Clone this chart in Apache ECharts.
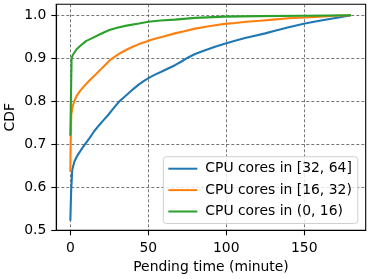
<!DOCTYPE html>
<html>
<head>
<meta charset="utf-8">
<script src="https://cdn.jsdelivr.net/npm/echarts@6/dist/echarts.min.js"></script>
<style>html,body{margin:0;padding:0;background:#fff}#c{width:371px;height:279px}</style>
</head>
<body>
<div id="c"></div>
<script>
const seriesNames = ['CPU cores in [32, 64]', 'CPU cores in [16, 32)', 'CPU cores in (0, 16)'];
const colors = ['#1f77b4', '#ff7f0e', '#2ca02c'];

const blueX = [0, 0.5, 1.2, 2.6, 4.7, 6.9, 9, 12.2, 15.4, 18.6, 21, 24, 27.5, 31.5, 36.8, 40.5, 44.2, 47.5, 50.6, 54.3, 58, 62, 67.1, 71, 74.6, 80, 86, 92.8, 99, 105.6, 112, 118.4, 125, 131.2, 140, 150.4, 158, 165.4, 172, 180];
const blueY = [0.522, 0.59, 0.64, 0.66, 0.675, 0.687, 0.698, 0.714, 0.731, 0.745, 0.755, 0.767, 0.783, 0.80, 0.817, 0.829, 0.840, 0.848, 0.855, 0.862, 0.868, 0.875, 0.884, 0.892, 0.90, 0.910, 0.918, 0.927, 0.934, 0.941, 0.947, 0.9526, 0.958, 0.964, 0.972, 0.981, 0.986, 0.991, 0.995, 1.0];

const orangeX = [0, 0.2, 0.6, 1.5, 2.5, 4, 6, 8.3, 12.4, 16.7, 20, 23, 25.8, 29, 32.5, 36, 40, 44, 48, 52, 56, 61, 67, 73, 80, 86, 92.8, 99, 105.6, 113, 121.6, 130, 140, 150.4, 160, 170, 180];
const orangeY = [0.636, 0.70, 0.77, 0.788, 0.80, 0.812, 0.823, 0.833, 0.849, 0.864, 0.876, 0.887, 0.897, 0.905, 0.913, 0.920, 0.927, 0.933, 0.938, 0.943, 0.947, 0.952, 0.958, 0.963, 0.969, 0.973, 0.977, 0.980, 0.982, 0.985, 0.9875, 0.990, 0.993, 0.995, 0.997, 0.999, 1.0];

const greenX = [0, 0.8, 1.5, 4, 7, 10, 14, 19, 25, 30, 36, 44, 50, 58, 67, 80, 99, 120, 150, 180];
const greenY = [0.72, 0.90, 0.907, 0.921, 0.931, 0.94, 0.947, 0.956, 0.966, 0.971, 0.976, 0.981, 0.985, 0.988, 0.99, 0.994, 0.997, 0.998, 0.999, 1.0];

const xTicks = [0, 50, 100, 150];
const yTicks = [0.5, 0.6, 0.7, 0.8, 0.9, 1.0];

const FONT = 'DejaVu Sans';
const FS = 13.9;

function pairs(xs, ys) { return xs.map((x, i) => [x, ys[i]]); }
const allX = [blueX, orangeX, greenX];
const allY = [blueY, orangeY, greenY];

const chart = echarts.init(document.getElementById('c'), null, {renderer: 'canvas'});
const gridLine = {show: true, lineStyle: {color: '#555', width: 0.8, type: [3, 2]}};
chart.setOption({
  animation: false,
  backgroundColor: '#fff',
  grid: {left: 56.3, right: 5.3, top: 4.3, bottom: 48.7, show: true, borderColor: '#000', borderWidth: 1.1, backgroundColor: 'transparent', containLabel: false, outerBoundsMode: 'none'},
  xAxis: {
    type: 'value', min: -9, max: 189.4, splitNumber: 4,
    name: 'Pending time (minute)', nameLocation: 'middle', nameGap: 30,
    nameTextStyle: {fontFamily: FONT, fontSize: FS, color: '#000'},
    axisLine: {show: true, onZero: false, lineStyle: {color: '#000', width: 1.1}},
    axisTick: {show: true, length: 5, lineStyle: {color: '#000', width: 1.1}, customValues: xTicks},
    axisLabel: {fontFamily: FONT, fontSize: FS, color: '#000', margin: 11, customValues: xTicks, formatter: v => String(v)},
    splitLine: gridLine
  },
  yAxis: {
    type: 'value', min: 0.5, max: 1.0256, splitNumber: 5,
    name: 'CDF', nameLocation: 'middle', nameGap: 39, nameMoveOverlap: false,
    nameTextStyle: {fontFamily: FONT, fontSize: FS, color: '#000'},
    axisLine: {show: true, onZero: false, lineStyle: {color: '#000', width: 1.1}},
    axisTick: {show: true, length: 5, lineStyle: {color: '#000', width: 1.1}, customValues: yTicks},
    axisLabel: {fontFamily: FONT, fontSize: FS, color: '#000', margin: 10, customValues: yTicks, formatter: v => v.toFixed(1)},
    splitLine: gridLine
  },
  legend: {
    orient: 'vertical', left: 163.3, top: 156.7,
    padding: [5, 6, 5, 5], itemGap: 7.4,
    itemWidth: 29, itemHeight: 2, icon: 'rect',
    backgroundColor: 'rgba(255,255,255,0.8)', borderColor: '#d0d0d0', borderWidth: 1, borderRadius: 3,
    textStyle: {fontFamily: FONT, fontSize: FS, color: '#000', padding: [0, 0, 0, 3]},
    data: seriesNames
  },
  series: seriesNames.map((n, i) => ({
    name: n, type: 'line', showSymbol: false, smooth: false,
    data: pairs(allX[i], allY[i]),
    lineStyle: {color: colors[i], width: 2.1},
    itemStyle: {color: colors[i]},
    z: 2 + i
  }))
});
</script>
</body>
</html>
